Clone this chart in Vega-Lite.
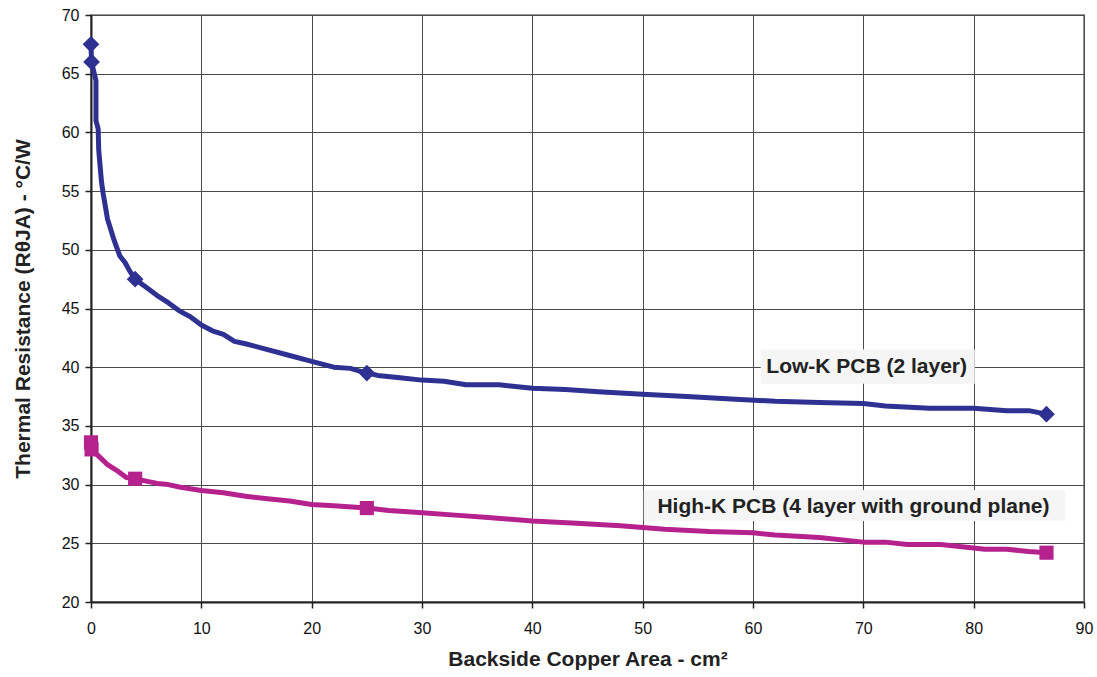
{
  "$schema": "https://vega.github.io/schema/vega-lite/v6.json",
  "width": 993,
  "height": 587,
  "autosize": {"type": "none"},
  "padding": {"left": 91, "top": 15, "right": 13, "bottom": 75},
  "background": "white",
  "config": {
    "font": "Liberation Sans",
    "view": {"stroke": "#999999", "strokeWidth": 2},
    "axis": {
      "labelFont": "Liberation Sans",
      "titleFont": "Liberation Sans",
      "labelFontSize": 16,
      "titleFontSize": 21,
      "labelColor": "#111",
      "titleColor": "#222",
      "labelFlush": false,
      "gridColor": "#4a4a4a",
      "gridWidth": 1,
      "domainColor": "#222",
      "domainWidth": 2,
      "tickColor": "#222",
      "tickSize": 6,
      "tickWidth": 1.5
    }
  },
  "datasets": {
    "curves": [
      {"series": "Low-K", "x": 0, "y": 67.5, "m": true},
      {"series": "Low-K", "x": 0.05, "y": 66, "m": true},
      {"series": "Low-K", "x": 0.3, "y": 65, "m": false},
      {"series": "Low-K", "x": 0.45, "y": 64.4, "m": false},
      {"series": "Low-K", "x": 0.45, "y": 61, "m": false},
      {"series": "Low-K", "x": 0.65, "y": 60.3, "m": false},
      {"series": "Low-K", "x": 0.7, "y": 58.5, "m": false},
      {"series": "Low-K", "x": 0.95, "y": 55.8, "m": false},
      {"series": "Low-K", "x": 1.1, "y": 54.8, "m": false},
      {"series": "Low-K", "x": 1.5, "y": 52.6, "m": false},
      {"series": "Low-K", "x": 2.1, "y": 50.8, "m": false},
      {"series": "Low-K", "x": 2.6, "y": 49.5, "m": false},
      {"series": "Low-K", "x": 3.1, "y": 48.9, "m": false},
      {"series": "Low-K", "x": 3.5, "y": 48.2, "m": false},
      {"series": "Low-K", "x": 4, "y": 47.5, "m": true},
      {"series": "Low-K", "x": 5, "y": 46.8, "m": false},
      {"series": "Low-K", "x": 6, "y": 46.1, "m": false},
      {"series": "Low-K", "x": 7, "y": 45.5, "m": false},
      {"series": "Low-K", "x": 8, "y": 44.8, "m": false},
      {"series": "Low-K", "x": 9, "y": 44.3, "m": false},
      {"series": "Low-K", "x": 10, "y": 43.6, "m": false},
      {"series": "Low-K", "x": 11, "y": 43.1, "m": false},
      {"series": "Low-K", "x": 12, "y": 42.8, "m": false},
      {"series": "Low-K", "x": 13, "y": 42.2, "m": false},
      {"series": "Low-K", "x": 14, "y": 42.0, "m": false},
      {"series": "Low-K", "x": 16, "y": 41.5, "m": false},
      {"series": "Low-K", "x": 18, "y": 41.0, "m": false},
      {"series": "Low-K", "x": 20, "y": 40.5, "m": false},
      {"series": "Low-K", "x": 22, "y": 40.0, "m": false},
      {"series": "Low-K", "x": 23.5, "y": 39.9, "m": false},
      {"series": "Low-K", "x": 25, "y": 39.5, "m": true},
      {"series": "Low-K", "x": 26, "y": 39.3, "m": false},
      {"series": "Low-K", "x": 28, "y": 39.1, "m": false},
      {"series": "Low-K", "x": 30, "y": 38.9, "m": false},
      {"series": "Low-K", "x": 32, "y": 38.8, "m": false},
      {"series": "Low-K", "x": 34, "y": 38.5, "m": false},
      {"series": "Low-K", "x": 37, "y": 38.5, "m": false},
      {"series": "Low-K", "x": 40, "y": 38.2, "m": false},
      {"series": "Low-K", "x": 43, "y": 38.1, "m": false},
      {"series": "Low-K", "x": 46, "y": 37.9, "m": false},
      {"series": "Low-K", "x": 50, "y": 37.7, "m": false},
      {"series": "Low-K", "x": 54, "y": 37.5, "m": false},
      {"series": "Low-K", "x": 58, "y": 37.3, "m": false},
      {"series": "Low-K", "x": 62, "y": 37.1, "m": false},
      {"series": "Low-K", "x": 66, "y": 37.0, "m": false},
      {"series": "Low-K", "x": 70, "y": 36.9, "m": false},
      {"series": "Low-K", "x": 72, "y": 36.7, "m": false},
      {"series": "Low-K", "x": 76, "y": 36.5, "m": false},
      {"series": "Low-K", "x": 80, "y": 36.5, "m": false},
      {"series": "Low-K", "x": 83, "y": 36.3, "m": false},
      {"series": "Low-K", "x": 85, "y": 36.3, "m": false},
      {"series": "Low-K", "x": 86.6, "y": 36.0, "m": true},
      {"series": "High-K", "x": 0, "y": 33.6, "m": true},
      {"series": "High-K", "x": 0.05, "y": 33.0, "m": true},
      {"series": "High-K", "x": 0.5, "y": 32.6, "m": false},
      {"series": "High-K", "x": 1.5, "y": 31.7, "m": false},
      {"series": "High-K", "x": 2.5, "y": 31.1, "m": false},
      {"series": "High-K", "x": 3.2, "y": 30.6, "m": false},
      {"series": "High-K", "x": 4, "y": 30.5, "m": true},
      {"series": "High-K", "x": 5, "y": 30.3, "m": false},
      {"series": "High-K", "x": 6, "y": 30.1, "m": false},
      {"series": "High-K", "x": 7, "y": 30.0, "m": false},
      {"series": "High-K", "x": 8, "y": 29.8, "m": false},
      {"series": "High-K", "x": 10, "y": 29.5, "m": false},
      {"series": "High-K", "x": 12, "y": 29.3, "m": false},
      {"series": "High-K", "x": 14, "y": 29.0, "m": false},
      {"series": "High-K", "x": 16, "y": 28.8, "m": false},
      {"series": "High-K", "x": 18, "y": 28.6, "m": false},
      {"series": "High-K", "x": 20, "y": 28.3, "m": false},
      {"series": "High-K", "x": 22, "y": 28.2, "m": false},
      {"series": "High-K", "x": 25, "y": 28.0, "m": true},
      {"series": "High-K", "x": 27, "y": 27.8, "m": false},
      {"series": "High-K", "x": 30, "y": 27.6, "m": false},
      {"series": "High-K", "x": 33, "y": 27.4, "m": false},
      {"series": "High-K", "x": 36, "y": 27.2, "m": false},
      {"series": "High-K", "x": 40, "y": 26.9, "m": false},
      {"series": "High-K", "x": 44, "y": 26.7, "m": false},
      {"series": "High-K", "x": 48, "y": 26.5, "m": false},
      {"series": "High-K", "x": 52, "y": 26.2, "m": false},
      {"series": "High-K", "x": 56, "y": 26.0, "m": false},
      {"series": "High-K", "x": 60, "y": 25.9, "m": false},
      {"series": "High-K", "x": 62, "y": 25.7, "m": false},
      {"series": "High-K", "x": 66, "y": 25.5, "m": false},
      {"series": "High-K", "x": 70, "y": 25.1, "m": false},
      {"series": "High-K", "x": 72, "y": 25.1, "m": false},
      {"series": "High-K", "x": 74, "y": 24.9, "m": false},
      {"series": "High-K", "x": 77, "y": 24.9, "m": false},
      {"series": "High-K", "x": 80, "y": 24.6, "m": false},
      {"series": "High-K", "x": 81, "y": 24.5, "m": false},
      {"series": "High-K", "x": 83, "y": 24.5, "m": false},
      {"series": "High-K", "x": 85, "y": 24.3, "m": false},
      {"series": "High-K", "x": 86.6, "y": 24.2, "m": true}
    ],
    "labels": [
      {"series": "Low-K", "text": "Low-K PCB (2 layer)", "x": 70.3, "y": 40.0, "x1": 60.7, "x2": 80.1, "y1": 41.5, "y2": 38.6},
      {"series": "High-K", "text": "High-K PCB (4 layer with ground plane)", "x": 69.1, "y": 28.1, "x1": 50.1, "x2": 88.3, "y1": 29.55, "y2": 26.9}
    ]
  },
  "layer": [
    {
      "data": {"name": "labels"},
      "mark": {"type": "rect", "color": "#f4f5f4"},
      "encoding": {
        "x": {"field": "x1", "type": "quantitative", "scale": {"domain": [0, 90]}},
        "x2": {"field": "x2"},
        "y": {"field": "y1", "type": "quantitative", "scale": {"domain": [20, 70]}},
        "y2": {"field": "y2"}
      }
    },
    {
      "data": {"name": "curves"},
      "mark": {"type": "line", "strokeWidth": 5, "interpolate": "linear", "strokeJoin": "round"},
      "encoding": {
        "x": {
          "field": "x", "type": "quantitative",
          "scale": {"domain": [0, 90], "nice": false, "zero": false},
          "axis": {"values": [0,10,20,30,40,50,60,70,80,90], "title": "Backside Copper Area - cm²", "titleFontWeight": "bold", "titlePadding": 12, "labelPadding": 12}
        },
        "y": {
          "field": "y", "type": "quantitative",
          "scale": {"domain": [20, 70], "nice": false, "zero": false},
          "axis": {"values": [20,25,30,35,40,45,50,55,60,65,70], "title": "Thermal Resistance (RθJA) - °C/W", "titleFontWeight": "bold", "titlePadding": 28, "labelPadding": 6}
        },
        "color": {"field": "series", "type": "nominal", "scale": {"domain": ["Low-K", "High-K"], "range": ["#2e3192", "#b5228e"]}, "legend": null},
        "detail": {"field": "series"}
      }
    },
    {
      "data": {"name": "curves"},
      "transform": [{"filter": "datum.m && datum.series == 'Low-K'"}],
      "mark": {"type": "point", "shape": "diamond", "filled": true, "size": 280, "opacity": 1},
      "encoding": {
        "x": {"field": "x", "type": "quantitative"},
        "y": {"field": "y", "type": "quantitative"},
        "color": {"field": "series", "type": "nominal", "legend": null}
      }
    },
    {
      "data": {"name": "curves"},
      "transform": [{"filter": "datum.m && datum.series == 'High-K'"}],
      "mark": {"type": "point", "shape": "square", "filled": true, "size": 200, "opacity": 1},
      "encoding": {
        "x": {"field": "x", "type": "quantitative"},
        "y": {"field": "y", "type": "quantitative"},
        "color": {"field": "series", "type": "nominal", "legend": null}
      }
    },
    {
      "data": {"name": "labels"},
      "mark": {"type": "text", "fontSize": 21, "fontWeight": "bold", "color": "#222", "align": "center", "baseline": "middle"},
      "encoding": {
        "x": {"field": "x", "type": "quantitative"},
        "y": {"field": "y", "type": "quantitative"},
        "text": {"field": "text"}
      }
    }
  ]
}
